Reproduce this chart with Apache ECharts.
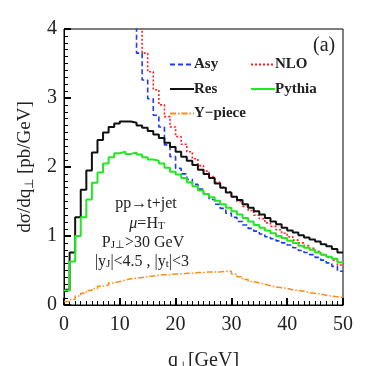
<!DOCTYPE html>
<html><head><meta charset="utf-8">
<script src="https://cdn.jsdelivr.net/npm/echarts@6/dist/echarts.min.js"></script>
<style>html,body{margin:0;padding:0;background:#fff}#c{width:366px;height:366px}</style>
</head><body><div id="c"></div>
<script>
// bin left edges (1 GeV bins), last edge closes the histogram
const binEdges = [0,1,2,3,4,5,6,7,8,9,10,11,12,13,14,15,16,17,18,19,20,21,22,23,24,25,26,27,28,29,30,31,32,33,34,35,36,37,38,39,40,41,42,43,44,45,46,47,48,49];
const xMax = 50;
const xTicks = [0,10,20,30,40,50];
const yTicks = [0,1,2,3,4];

const asy = [null,null,null,null,null,null,null,null,null,null,null,null,4.3,3.65,3.26,2.99,2.75,2.58,2.32,2.15,1.98,1.90,1.82,1.75,1.68,1.61,1.53,1.46,1.40,1.33,1.27,1.21,1.16,1.11,1.07,1.03,0.99,0.96,0.93,0.90,0.87,0.83,0.79,0.76,0.73,0.69,0.65,0.61,0.56,0.49];
const nlo = [null,null,null,null,null,null,null,null,null,null,null,null,null,4.3,3.65,3.38,3.12,2.90,2.73,2.58,2.44,2.33,2.22,2.12,2.02,1.94,1.86,1.78,1.71,1.64,1.57,1.50,1.43,1.37,1.30,1.25,1.19,1.14,1.09,1.04,0.99,0.94,0.90,0.86,0.82,0.78,0.73,0.69,0.65,0.58];
const res = [0.22,0.76,1.27,1.67,1.95,2.21,2.39,2.50,2.58,2.63,2.66,2.66,2.64,2.60,2.57,2.52,2.47,2.42,2.35,2.29,2.22,2.15,2.09,2.03,1.96,1.90,1.84,1.76,1.70,1.63,1.57,1.52,1.46,1.41,1.36,1.31,1.26,1.21,1.17,1.12,1.08,1.05,1.01,0.98,0.95,0.92,0.88,0.85,0.81,0.76];
const pythia = [0.21,0.63,1.00,1.27,1.53,1.77,1.92,2.05,2.14,2.20,2.22,2.19,2.21,2.18,2.14,2.11,2.09,2.05,1.99,1.93,1.89,1.84,1.78,1.72,1.66,1.61,1.56,1.51,1.46,1.41,1.36,1.31,1.26,1.21,1.16,1.12,1.08,1.04,1.00,0.97,0.93,0.90,0.86,0.83,0.80,0.76,0.73,0.70,0.67,0.62];
const ypiece = [0.05,0.08,0.13,0.17,0.21,0.24,0.27,0.29,0.32,0.34,0.36,0.38,0.39,0.40,0.41,0.42,0.43,0.44,0.44,0.45,0.45,0.46,0.46,0.47,0.47,0.48,0.48,0.48,0.49,0.49,0.45,0.41,0.37,0.34,0.32,0.30,0.28,0.26,0.25,0.24,0.22,0.21,0.20,0.18,0.17,0.16,0.14,0.13,0.12,0.11];

function hist(vals){
  const d = binEdges.map((q,i)=>[q, vals[i]]);
  d.push([xMax, vals[vals.length-1]]);
  return d;
}
const serif = 'Liberation Serif';
const chart = echarts.init(document.getElementById('c'));

function axisCommon(){
  return {
    axisLine:{show:true,onZero:false,lineStyle:{color:'#000',width:1}},
    axisTick:{show:true,inside:true,length:7,lineStyle:{color:'#000',width:2}},
    minorTick:{show:true,splitNumber:10,length:4,lineStyle:{color:'#000',width:1}},
    splitLine:{show:false}
  };
}
const sub = {fontFamily:serif,fontSize:12,color:'#222',verticalAlign:'bottom',padding:[0,0,-2,0]};
const legendText = {fontFamily:serif,fontWeight:'bold',fontSize:15,color:'#222',padding:[0,0,0,-5]};
const xLab = {show:true,fontFamily:serif,fontSize:20,color:'#222',margin:10};
const yLab = {show:true,fontFamily:serif,fontSize:20,color:'#222',margin:7};
chart.setOption({
  animation:false,
  grid:{left:64,right:23,top:29,bottom:61,outerBoundsMode:'none',containLabel:false,
    show:true,borderColor:'#000',borderWidth:1,backgroundColor:'transparent'},
  xAxis:[
    Object.assign({type:'value',min:xTicks[0],max:xMax,interval:10,position:'bottom',
      name:'q{s|⊥}[GeV]',nameLocation:'middle',nameGap:46,
      nameTextStyle:{fontFamily:serif,fontSize:20,color:'#222',rich:{s:sub}}},axisCommon(),{axisLabel:xLab})
  ],
  yAxis:[
    Object.assign({type:'value',min:yTicks[0],max:yTicks[yTicks.length-1],interval:1,position:'left',
      name:'dσ/dq{s|⊥} [pb/GeV]',nameLocation:'middle',nameGap:25,
      nameTextStyle:{fontFamily:serif,fontSize:19,color:'#222',rich:{s:sub}}},axisCommon(),{axisLabel:yLab})
  ],
  legend:[
    {data:['Asy','Res','Y−piece'],orient:'vertical',left:164,top:52,itemWidth:24,itemHeight:14,itemGap:9.5,
      itemStyle:{color:'rgba(0,0,0,0)',borderWidth:0,opacity:0},textStyle:legendText},
    {data:['NLO','Pythia'],orient:'vertical',left:245,top:52,itemWidth:24,itemHeight:14,itemGap:9.5,
      itemStyle:{color:'rgba(0,0,0,0)',borderWidth:0,opacity:0},textStyle:legendText}
  ],
  series:[
    {name:'Y−piece',type:'line',step:'end',symbol:'none',data:hist(ypiece),clip:true,
      lineStyle:{color:'#ff8c1a',width:1.5,type:[6,2,1.5,2]},itemStyle:{color:'#ff8c1a'}},
    {name:'Asy',type:'line',step:'end',symbol:'none',data:hist(asy),clip:true,
      lineStyle:{color:'#1f3be8',width:1.6,type:[5,3]},itemStyle:{color:'#1f3be8'}},
    {name:'NLO',type:'line',step:'end',symbol:'none',data:hist(nlo),clip:true,
      lineStyle:{color:'#ff2020',width:1.6,type:[2,2]},itemStyle:{color:'#ff2020'}},
    {name:'Res',type:'line',step:'end',symbol:'none',data:hist(res),clip:true,
      lineStyle:{color:'#111',width:2},itemStyle:{color:'#111'}},
    {name:'Pythia',type:'line',step:'end',symbol:'none',data:hist(pythia),clip:true,
      lineStyle:{color:'#22e822',width:2},itemStyle:{color:'#22e822'}}
  ],
  graphic:[
    {type:'text',left:313,top:36,style:{text:'(a)',font:'20px "Liberation Serif"',fill:'#222'}},
    {type:'text',x:146,y:204,style:{text:'pp→t+jet',font:'16px "Liberation Serif"',fill:'#222',align:'center',verticalAlign:'middle'}},
    {type:'text',x:147,y:224,style:{text:'{i|μ}=H{s|T}',align:'center',verticalAlign:'middle',
      rich:{i:{font:'italic 16px "Liberation Serif"',fill:'#222'},s:{font:'11px "Liberation Serif"',fill:'#222',verticalAlign:'bottom'}},font:'16px "Liberation Serif"',fill:'#222'}},
    {type:'text',x:143,y:243,style:{text:'P{s|J⊥}>30 GeV',align:'center',verticalAlign:'middle',
      rich:{s:{font:'11px "Liberation Serif"',fill:'#222',verticalAlign:'bottom'}},font:'16px "Liberation Serif"',fill:'#222'}},
    {type:'text',x:142,y:262,style:{text:'|y{s|J}|<4.5 , |y{s|t}|<3',align:'center',verticalAlign:'middle',
      rich:{s:{font:'11px "Liberation Serif"',fill:'#222',verticalAlign:'bottom'}},font:'16px "Liberation Serif"',fill:'#222'}}
  ]
});
</script></body></html>
